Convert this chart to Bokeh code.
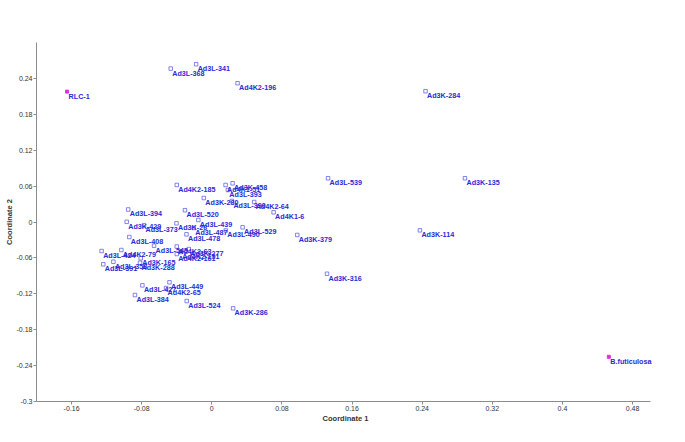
from bokeh.plotting import figure
from bokeh.models import ColumnDataSource, FixedTicker, CustomJSTickFormatter, Range1d, LabelSet
from bokeh.core.properties import value
from bokeh.embed import file_html
from bokeh.resources import INLINE

# ---- data ----
names = [
    "RLC-1", "B.futiculosa", "Ad3K-284", "Ad3K-135", "Ad3K-114", "Ad3L-368", "Ad3L-341",
    "Ad4K2-196", "Ad3L-539", "Ad3K-379", "Ad3K-316", "Ad4K1-6", "Ad4K2-64", "Ad3L-390",
    "Ad3K-280", "Ad4K2-185", "Ad4K1-51", "Ad3K-458", "Ad3L-393", "Ad3L-394", "Ad3L-520",
    "Ad3L-439", "Ad3K-429", "Ad3L-373", "Ad3K-26", "Ad3L-487", "Ad3L-490", "Ad3L-529",
    "Ad3L-478", "Ad3L-408", "Ad3L-545", "Ad4K2-63", "Ad3K-277", "Ad4K2-151", "Ad4K2-161",
    "Ad3L-424", "Ad4K2-79", "Ad3L-391", "Ad3L-358", "Ad3K-165", "Ad3K-288", "Ad3L-427",
    "Ad3L-449", "Ad4K2-65", "Ad3L-384", "Ad3L-524", "Ad3K-286",
]
coord1 = [
    -0.1651, 0.4529, 0.2438, 0.2888, 0.2374, -0.0469, -0.0179,
    0.0294, 0.1326, 0.0975, 0.1314, 0.0705, 0.0483, 0.0229,
    -0.0091, -0.0400, 0.0157, 0.0237, 0.0183, -0.0954, -0.0306,
    -0.0154, -0.0971, -0.0774, -0.0403, -0.0206, 0.0160, 0.0351,
    -0.0289, -0.0941, -0.0659, -0.0400, -0.0263, -0.0354, -0.0400,
    -0.1257, -0.1032, -0.1238, -0.1123, -0.0811, -0.0819, -0.0792,
    -0.0483, -0.0522, -0.0877, -0.0286, 0.0243,
]
coord2 = [
    0.2179, -0.2253, 0.2186, 0.0731, -0.0139, 0.2564, 0.2637,
    0.2319, 0.0731, -0.0217, -0.0865, 0.0162, 0.0334, 0.0351,
    0.0401, 0.0619, 0.0619, 0.0647, 0.0535, 0.0209, 0.0197,
    0.0033, 0.0003, -0.0055, -0.0022, -0.0100, -0.0142, -0.0089,
    -0.0206, -0.0251, -0.0396, -0.0410, -0.0452, -0.0502, -0.0535,
    -0.0485, -0.0468, -0.0707, -0.0664, -0.0607, -0.0681, -0.1059,
    -0.1008, -0.1104, -0.1221, -0.1321, -0.1443,
]
group = ["ref", "ref"] + ["acc"] * (len(names) - 2)

x_ticks = [-0.16, -0.08, 0, 0.08, 0.16, 0.24, 0.32, 0.4, 0.48]
y_ticks = [-0.3, -0.24, -0.18, -0.12, -0.06, 0, 0.06, 0.12, 0.18, 0.24]

# ---- styling ----
LABEL_BLUE = "#2a2ad6"
MARK_BLUE = "#5050e0"
MAGENTA = "#e030e0"

src = ColumnDataSource(dict(x=coord1, y=coord2, name=names))
ref_idx = [i for i, g in enumerate(group) if g == "ref"]
acc_idx = [i for i, g in enumerate(group) if g == "acc"]
src_ref = ColumnDataSource(dict(x=[coord1[i] for i in ref_idx], y=[coord2[i] for i in ref_idx]))
src_acc = ColumnDataSource(dict(x=[coord1[i] for i in acc_idx], y=[coord2[i] for i in acc_idx]))

# frame extends a hair past 0.5 so the right-most label is not clipped;
# the x axis line itself stops at 0.5
p = figure(frame_width=618, frame_height=359, output_backend="svg", toolbar_location=None,
           x_range=Range1d(-0.2, 0.505), y_range=Range1d(-0.3, 0.3),
           min_border_left=36, min_border_right=14, min_border_top=42, min_border_bottom=30)
p.outline_line_color = None
p.xgrid.visible = False
p.ygrid.visible = False
p.background_fill_color = "white"

fmt = CustomJSTickFormatter(code="return (Math.round(tick*100)/100).toString();")
for ax, ticks, title in ((p.xaxis[0], x_ticks, "Coordinate 1"), (p.yaxis[0], y_ticks, "Coordinate 2")):
    ax.ticker = FixedTicker(ticks=ticks)
    ax.formatter = fmt
    ax.axis_label = title
    ax.axis_label_text_font = "Liberation Sans"
    ax.axis_label_text_font_size = "7.5px"
    ax.axis_label_text_font_style = "bold"
    ax.axis_label_text_color = "#333333"
    ax.axis_label_standoff = 0
    ax.major_label_text_font = "Liberation Sans"
    ax.major_label_text_font_size = "7px"
    ax.major_label_text_color = "#333333"
    ax.major_label_standoff = 1
    ax.axis_line_color = "#8c8c8c"
    ax.major_tick_line_color = "#8c8c8c"
    ax.major_tick_out = 3
    ax.major_tick_in = 0
    ax.minor_tick_line_color = None
p.xaxis[0].bounds = (-0.2, 0.5)

p.scatter("x", "y", source=src_acc, marker="square", size=3.5,
          line_color=MARK_BLUE, line_width=0.7, fill_color="white")
p.scatter("x", "y", source=src_ref, marker="square", size=3,
          line_color=MAGENTA, fill_color=MAGENTA)
labels = LabelSet(x="x", y="y", text="name", source=src, x_offset=1.5, y_offset=0,
                  text_baseline="top", text_align="left", text_font=value("Liberation Sans"),
                  text_font_size=value("7.2px"), text_font_style="bold", text_color=LABEL_BLUE)
p.add_layout(labels)

open("out.html", "w").write(file_html(p, INLINE))
